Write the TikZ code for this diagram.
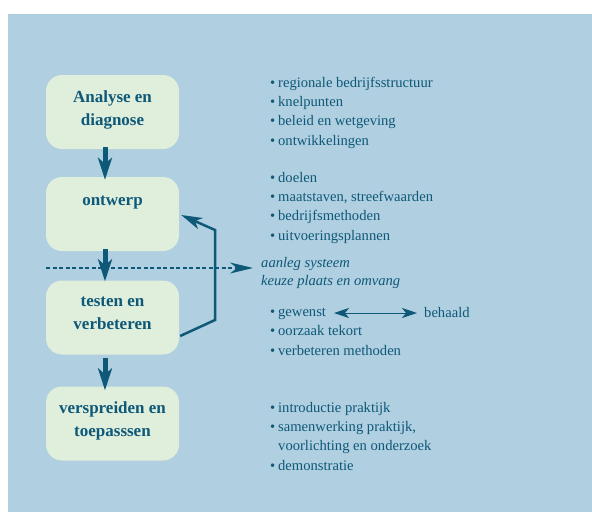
\documentclass[tikz,border=0pt]{standalone}
\usepackage{fontspec}
\setmainfont{Liberation Serif}
\usetikzlibrary{arrows.meta}
\definecolor{bgblue}{RGB}{176,207,224}
\definecolor{boxgreen}{RGB}{224,238,220}
\definecolor{darkteal}{RGB}{14,88,120}
\def\bul{\makebox[8pt][l]{\textbullet}}

\begin{document}
\begin{tikzpicture}[x=1pt, y=-1pt,
		stage/.style={fill=boxgreen, rounded corners=16pt, minimum width=133pt, minimum height=74pt, inner sep=0pt, text depth=8pt, align=center, text=darkteal, font=\bfseries\fontsize{17}{23}\selectfont},
		stagearrow/.style={draw=darkteal, line width=5pt, -{Stealth[length=22pt, width=14pt, inset=6pt]}},
		notes/.style={anchor=base west, inner sep=0pt, align=left, text=darkteal, font=\fontsize{14.6}{19.3}\selectfont}]
			%%%%% START %%%%%
			
			\useasboundingbox (0, 0) rectangle (592, 512);
			\fill[bgblue] (8, 14) rectangle (592, 512);
			
			\node[stage] (ana) at (112.5, 112) {Analyse en\\diagnose};
			\node[stage, text depth=26pt] (ont) at (112.5, 214) {ontwerp};
			\node[stage] (test) at (112.5, 317.5) {testen en\\verbeteren};
			\node[stage] (versp) at (112.5, 423.5) {verspreiden en\\toepasssen};
			
			\draw[stagearrow] ([xshift=-7.5pt, yshift=2pt]ana.south) -- ([xshift=-7.5pt, yshift=-3pt]ont.north);
			\draw[stagearrow] ([xshift=-7.5pt, yshift=2pt]ont.south) -- ([xshift=-7.5pt, yshift=-1pt]test.north);
			\draw[stagearrow] ([xshift=-7.5pt, yshift=-3pt]test.south) -- ([xshift=-7.5pt, yshift=-4pt]versp.north);
			
			% the base of a list is its last line
			\node[notes] (analist) at (270, 145) {\bul regionale bedrijfsstructuur\\\bul knelpunten\\\bul beleid en wetgeving\\\bul ontwikkelingen};
			\node[notes] (ontlist) at (270, 240) {\bul doelen\\\bul maatstaven, streefwaarden\\\bul bedrijfsmethoden\\\bul uitvoeringsplannen};
			\node[notes, font=\itshape\fontsize{14.6}{18}\selectfont] (aanleg) at (261, 285) {aanleg systeem\\keuze plaats en omvang};
			\node[notes] (testlist) at (270, 355) {\bul gewenst\\\bul oorzaak tekort\\\bul verbeteren methoden};
			\node[notes] (behaald) at (424, 317) {behaald};
			\node[notes] (versplist) at (270, 470) {\bul introductie praktijk\\\bul samenwerking praktijk,\\\hspace*{8pt}voorlichting en onderzoek\\\bul demonstratie};
			
			% dashed line across the flow
			\coordinate (dashL) at (46, 268);
			\draw[darkteal, line width=1.2pt, dash pattern=on 4pt off 2.5pt, -{Stealth[length=23pt, width=11pt, inset=7pt]}] (dashL) -- ([xshift=-8pt]dashL -| aanleg.west);
			
			% feedback from testen to ontwerp
			\coordinate (fbA) at (215, 320);
			\coordinate (fbB) at (215, 230);
			\draw[darkteal, line width=2.5pt, -{Stealth[length=21pt, width=12pt, inset=6pt]}] ([xshift=1pt, yshift=-18.5pt]test.east) -- (fbA) -- (fbB) -- ([xshift=2pt, yshift=-1pt]ont.east);
			
			\coordinate (gw) at (334, 313);
			\draw[darkteal, line width=1pt, {Stealth[length=15pt, width=10pt, inset=4pt]}-{Stealth[length=15pt, width=10pt, inset=4pt]}] (gw) -- ([xshift=-7pt]gw -| behaald.west);
			
			%%%%% END %%%%%
		\end{tikzpicture}
\end{document}
